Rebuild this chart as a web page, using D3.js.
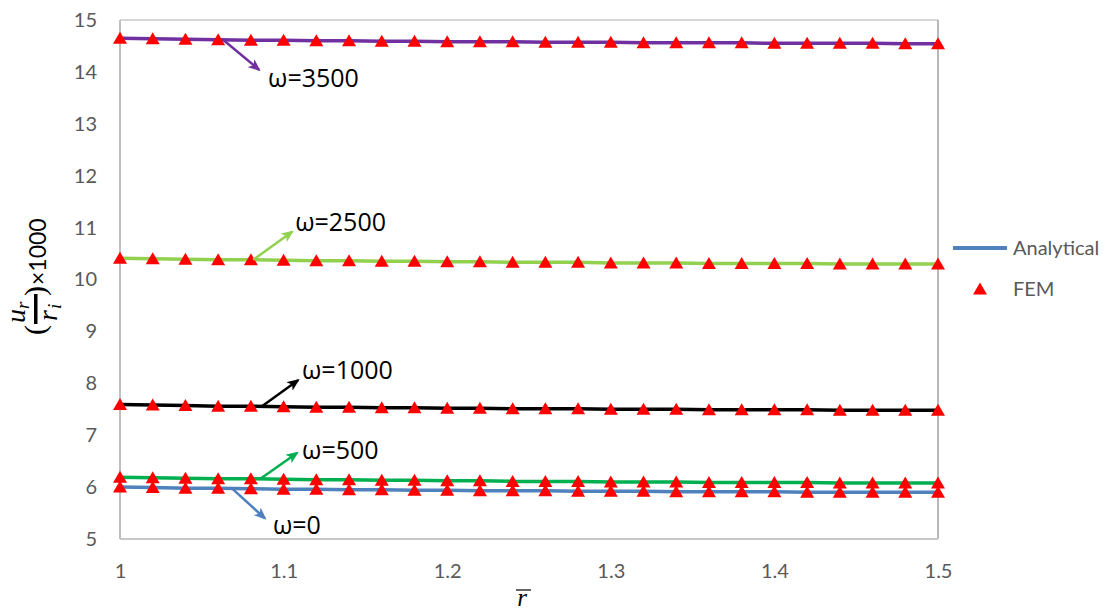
<!DOCTYPE html>
<html>
<head>
<meta charset="utf-8">
<script src="https://cdn.jsdelivr.net/npm/d3@7"></script>
<style>
  html, body { margin: 0; padding: 0; background: #fff; }
  svg { display: block; }
  .tick text { font-family: Lato, "Open Sans", sans-serif; font-size: 20px; fill: #595959; }
</style>
</head>
<body>
<svg id="chart" width="1115" height="612"></svg>
<script>
// Radial position r̄ = r / r_i, sampled every 0.02
const rBar = [1.00, 1.02, 1.04, 1.06, 1.08, 1.10, 1.12, 1.14, 1.16, 1.18, 1.20, 1.22, 1.24,
              1.26, 1.28, 1.30, 1.32, 1.34, 1.36, 1.38, 1.40, 1.42, 1.44, 1.46, 1.48, 1.50];

// Analytical solution (u_r / r_i) × 1000 for each angular velocity
const analytical0    = [6.00, 5.99, 5.98, 5.98, 5.97, 5.96, 5.96, 5.95, 5.95, 5.94, 5.94, 5.93, 5.93,
                        5.93, 5.92, 5.92, 5.92, 5.91, 5.91, 5.91, 5.91, 5.90, 5.90, 5.90, 5.90, 5.90];
const analytical500  = [6.19, 6.18, 6.17, 6.16, 6.16, 6.15, 6.14, 6.14, 6.13, 6.13, 6.12, 6.12, 6.11,
                        6.11, 6.11, 6.10, 6.10, 6.10, 6.09, 6.09, 6.09, 6.09, 6.08, 6.08, 6.08, 6.08];
const analytical1000 = [7.59, 7.58, 7.57, 7.56, 7.56, 7.55, 7.54, 7.54, 7.53, 7.53, 7.52, 7.52, 7.51,
                        7.51, 7.51, 7.50, 7.50, 7.50, 7.49, 7.49, 7.49, 7.49, 7.48, 7.48, 7.48, 7.48];
const analytical2500 = [10.41, 10.40, 10.39, 10.38, 10.38, 10.37, 10.36, 10.36, 10.35, 10.35, 10.34, 10.34, 10.33,
                        10.33, 10.33, 10.32, 10.32, 10.32, 10.31, 10.31, 10.31, 10.31, 10.30, 10.30, 10.30, 10.30];
const analytical3500 = [14.65, 14.64, 14.63, 14.62, 14.61, 14.61, 14.60, 14.60, 14.59, 14.59, 14.58, 14.58, 14.58,
                        14.57, 14.57, 14.57, 14.56, 14.56, 14.56, 14.56, 14.55, 14.55, 14.55, 14.55, 14.54, 14.54];

// Finite element results at the same nodes
const fem0    = [6.00, 5.99, 5.98, 5.98, 5.97, 5.96, 5.96, 5.95, 5.95, 5.94, 5.94, 5.93, 5.93,
                 5.93, 5.92, 5.92, 5.92, 5.91, 5.91, 5.91, 5.91, 5.90, 5.90, 5.90, 5.90, 5.90];
const fem500  = [6.19, 6.18, 6.17, 6.16, 6.16, 6.15, 6.14, 6.14, 6.13, 6.13, 6.12, 6.12, 6.11,
                 6.11, 6.11, 6.10, 6.10, 6.10, 6.09, 6.09, 6.09, 6.09, 6.08, 6.08, 6.08, 6.08];
const fem1000 = [7.59, 7.58, 7.57, 7.56, 7.56, 7.55, 7.54, 7.54, 7.53, 7.53, 7.52, 7.52, 7.51,
                 7.51, 7.51, 7.50, 7.50, 7.50, 7.49, 7.49, 7.49, 7.49, 7.48, 7.48, 7.48, 7.48];
const fem2500 = [10.41, 10.40, 10.39, 10.38, 10.38, 10.37, 10.36, 10.36, 10.35, 10.35, 10.34, 10.34, 10.33,
                 10.33, 10.33, 10.32, 10.32, 10.32, 10.31, 10.31, 10.31, 10.31, 10.30, 10.30, 10.30, 10.30];
const fem3500 = [14.65, 14.64, 14.63, 14.62, 14.61, 14.61, 14.60, 14.60, 14.59, 14.59, 14.58, 14.58, 14.58,
                 14.57, 14.57, 14.57, 14.56, 14.56, 14.56, 14.56, 14.55, 14.55, 14.55, 14.55, 14.54, 14.54];

const omegaLabels = ["ω=0", "ω=500", "ω=1000", "ω=2500", "ω=3500"];
const xTickValues = [1, 1.1, 1.2, 1.3, 1.4, 1.5];
const xTickLabels = ["1", "1.1", "1.2", "1.3", "1.4", "1.5"];
const yTickValues = [5, 6, 7, 8, 9, 10, 11, 12, 13, 14, 15];
const legendLabels = ["Analytical", "FEM"];

// ---- layout & styling ----
const colors = ["#4F81BD", "#00B050", "#000000", "#92D050", "#7030A0"];
const analyticalSeries = [analytical0, analytical500, analytical1000, analytical2500, analytical3500];
const femSeries = [fem0, fem500, fem1000, fem2500, fem3500];

// arrow anchor on the curve (fractional index into rBar) and arrow tip / label offsets in px
const callouts = [
  { i: 3.42, tip: [33, 30],  text: [41, 46] },
  { i: 4.28, tip: [37, -26], text: [42, -20] },
  { i: 4.34, tip: [36, -26], text: [40, -27] },
  { i: 4.07, tip: [39, -28], text: [42, -29] },
  { i: 3.15, tip: [36, 30],  text: [45, 47] }
];

const svg = d3.select("#chart");
const plot = { left: 120, right: 938, top: 20, bottom: 539 };

const x = d3.scaleLinear().domain([1, 1.5]).range([plot.left, plot.right]);
const y = d3.scaleLinear().domain([5, 15]).range([plot.bottom, plot.top]);

// plot frame
svg.append("line").attr("x1", plot.left).attr("x2", plot.right).attr("y1", plot.top).attr("y2", plot.top)
  .attr("stroke", "#C8C8C8").attr("stroke-width", 1.5);
svg.append("line").attr("x1", plot.right).attr("x2", plot.right).attr("y1", plot.top).attr("y2", plot.bottom)
  .attr("stroke", "#A0A0A0").attr("stroke-width", 1.5);
svg.append("line").attr("x1", plot.left).attr("x2", plot.right).attr("y1", plot.bottom).attr("y2", plot.bottom)
  .attr("stroke", "#C8C8C8").attr("stroke-width", 2);
svg.append("line").attr("x1", plot.left).attr("x2", plot.left).attr("y1", plot.top).attr("y2", plot.bottom)
  .attr("stroke", "#BFBFBF").attr("stroke-width", 2);

// axes (labels only)
const yAxis = d3.axisLeft(y).tickValues(yTickValues).tickSize(0).tickPadding(23).tickFormat(d3.format("d"));
svg.append("g").attr("transform", `translate(${plot.left},0)`).call(yAxis)
  .call(g => g.select(".domain").remove());

const xAxis = d3.axisBottom(x).tickValues(xTickValues).tickSize(0).tickPadding(25)
  .tickFormat((d, i) => xTickLabels[i]);
svg.append("g").attr("transform", `translate(0,${plot.bottom})`).call(xAxis)
  .call(g => g.select(".domain").remove());

// analytical curves
const line = d3.line().x((d, i) => x(rBar[i])).y(d => y(d));
svg.append("g").selectAll("path").data(analyticalSeries).join("path")
  .attr("d", line)
  .attr("fill", "none")
  .attr("stroke", (d, i) => colors[i])
  .attr("stroke-width", 3.5);

// FEM markers
const tri = "M0,-6.5L7,5.5L-7,5.5Z";
svg.append("g").selectAll("g").data(femSeries).join("g")
  .selectAll("path").data(d => d).join("path")
  .attr("d", tri)
  .attr("fill", "#FF0000")
  .attr("transform", (d, i) => `translate(${x(rBar[i])},${y(d)})`);

// callout arrows
const defs = svg.append("defs");
colors.forEach((c, k) => {
  defs.append("marker")
    .attr("id", "arrow" + k)
    .attr("viewBox", "0 0 12 10")
    .attr("refX", 10).attr("refY", 5)
    .attr("markerWidth", 5).attr("markerHeight", 4.2)
    .attr("markerUnits", "strokeWidth")
    .attr("orient", "auto")
    .append("path").attr("d", "M0,0L12,5L0,10L3,5Z").attr("fill", c);
});

const interp = (arr, t) => {
  const i0 = Math.floor(t), f = t - i0;
  return arr[i0] + (arr[Math.min(i0 + 1, arr.length - 1)] - arr[i0]) * f;
};

callouts.forEach((c, k) => {
  const ax = x(interp(rBar, c.i));
  const ay = y(interp(analyticalSeries[k], c.i));
  svg.append("line")
    .attr("x1", ax).attr("y1", ay)
    .attr("x2", ax + c.tip[0]).attr("y2", ay + c.tip[1])
    .attr("stroke", colors[k]).attr("stroke-width", 2.5)
    .attr("marker-end", `url(#arrow${k})`);
  svg.append("text")
    .attr("x", ax + c.text[0]).attr("y", ay + c.text[1])
    .attr("font-family", "'Open Sans', sans-serif")
    .attr("font-size", 25)
    .attr("fill", "#000")
    .text(omegaLabels[k]);
});

// legend
const legend = svg.append("g").attr("font-family", "Lato, 'Open Sans', sans-serif").attr("font-size", 20).attr("fill", "#595959");
legend.append("line").attr("x1", 953).attr("x2", 1007).attr("y1", 248).attr("y2", 248)
  .attr("stroke", colors[0]).attr("stroke-width", 4);
legend.append("text").attr("x", 1013).attr("y", 248).attr("dy", "0.35em").text(legendLabels[0]);
legend.append("path").attr("d", tri).attr("fill", "#FF0000").attr("transform", "translate(980,289)");
legend.append("text").attr("x", 1013).attr("y", 289).attr("dy", "0.35em").text(legendLabels[1]);

// x-axis title: r̄
const xt = svg.append("g").attr("font-family", "'Liberation Serif', 'DejaVu Serif', serif").attr("font-style", "italic");
xt.append("text").attr("x", 522).attr("y", 606).attr("text-anchor", "middle").attr("font-size", 25).text("r");
xt.append("line").attr("x1", 516).attr("x2", 531).attr("y1", 590).attr("y2", 590).attr("stroke", "#000").attr("stroke-width", 1.2);

// y-axis title: (u_r / r_i) × 1000
const yt = svg.append("g").attr("transform", "translate(36,338) rotate(-90)")
  .attr("font-family", "'Liberation Serif', 'DejaVu Serif', serif");
yt.append("text").attr("x", 3).attr("y", 9).attr("font-size", 30).text("(");
yt.append("text").attr("x", 15).attr("y", -11).attr("font-size", 28).attr("font-style", "italic").text("u");
yt.append("text").attr("x", 29).attr("y", -7).attr("font-size", 19).attr("font-style", "italic").text("r");
yt.append("rect").attr("x", 14).attr("y", -2).attr("width", 30).attr("height", 3.5).attr("fill", "#000");
yt.append("text").attr("x", 17).attr("y", 21).attr("font-size", 28).attr("font-style", "italic").text("r");
yt.append("text").attr("x", 29).attr("y", 25).attr("font-size", 19).attr("font-style", "italic").text("i");
yt.append("text").attr("x", 42).attr("y", 9).attr("font-size", 30).text(")");
yt.append("text").attr("x", 53).attr("y", 10).attr("font-size", 23)
  .attr("font-family", "Lato, 'Open Sans', sans-serif").attr("fill", "#000").text("×1000");
</script>
</body>
</html>
